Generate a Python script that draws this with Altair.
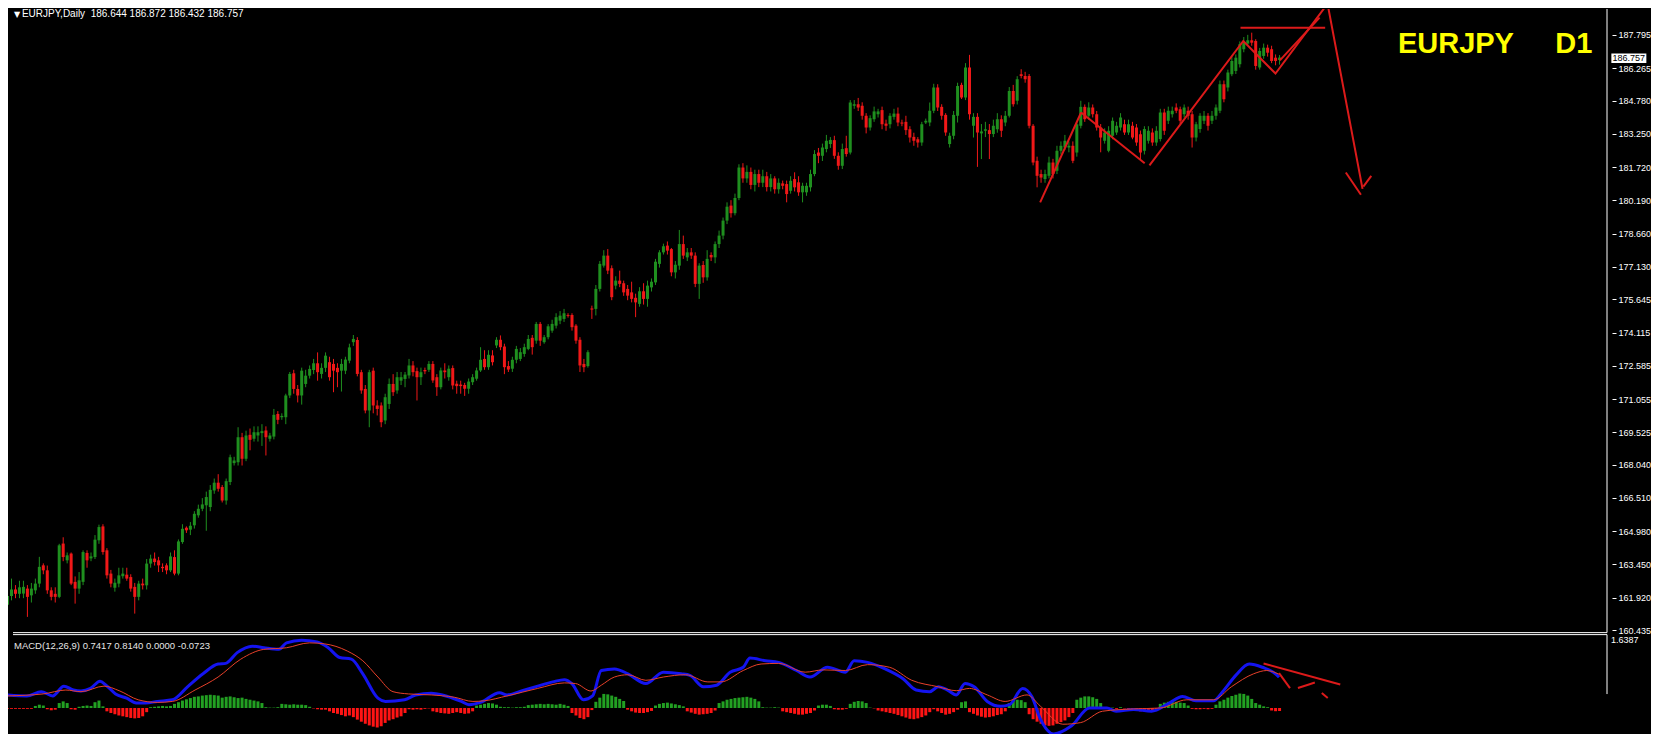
import altair as alt
import pandas as pd

# ---------------- candle data (EURJPY daily) ----------------
OPEN = [
 161.60,162.00,162.30,162.10,162.11,162.34,162.03,162.26,162.57,163.41,
 163.18,162.26,162.10,161.96,164.41,163.64,163.95,162.65,162.34,162.65,
 163.98,163.73,163.79,164.56,165.20,164.10,163.03,162.38,162.57,162.91,
 162.98,162.87,162.42,161.96,162.57,162.49,163.49,163.72,163.64,163.34,
 163.41,163.18,163.79,163.03,164.48,165.14,165.05,165.25,165.71,166.01,
 166.17,166.09,166.85,167.21,167.01,166.39,167.24,168.11,168.15,169.30,
 168.31,169.41,169.23,169.38,169.49,169.61,169.23,169.33,170.37,170.22,
 170.22,171.22,172.24,171.52,171.22,171.75,172.13,172.39,172.70,172.21,
 172.49,172.75,172.67,172.49,172.36,172.36,172.82,173.67,173.77,172.29,
 171.52,170.53,172.36,170.76,170.76,170.07,170.83,171.75,171.45,171.90,
 171.98,172.14,172.60,172.34,172.06,172.39,172.40,172.67,172.06,171.60,
 172.37,172.06,172.48,171.76,171.72,171.70,171.53,171.83,171.99,172.37,
 172.90,172.52,173.06,173.52,173.78,173.47,172.57,172.45,172.86,172.90,
 173.13,173.36,173.87,173.74,174.51,173.67,173.90,174.20,174.43,174.66,
 174.74,174.92,174.92,174.43,173.78,172.67,172.57,175.22,175.20,176.12,
 177.19,177.65,177.07,176.27,176.50,176.38,176.12,175.96,175.71,175.43,
 176.01,175.66,176.19,176.42,177.27,177.80,178.11,177.95,176.88,177.19,
 178.18,177.57,177.80,177.65,176.35,177.22,176.65,177.68,177.57,178.18,
 178.57,179.26,179.95,179.60,180.30,181.70,181.20,181.50,180.90,181.40,
 181.00,181.30,180.80,181.20,180.70,180.97,180.94,180.63,181.17,181.02,
 180.56,180.56,180.79,181.40,182.39,182.24,182.55,182.78,182.96,182.24,
 181.78,182.59,182.39,184.54,184.61,184.54,184.08,183.54,183.92,184.15,
 184.34,183.72,183.69,184.03,184.18,183.77,183.80,183.46,183.11,183.00,
 182.85,183.77,183.77,184.31,185.38,184.49,184.12,182.78,183.16,184.08,
 185.50,184.92,186.30,183.62,184.03,183.27,183.39,183.42,183.24,183.46,
 183.92,183.77,184.08,185.22,184.77,185.99,185.91,185.91,183.62,182.01,
 181.40,181.17,181.32,181.93,181.55,182.47,182.62,182.62,182.70,182.39,
 183.62,184.49,184.08,184.46,184.15,183.54,182.93,182.47,183.16,183.31,
 183.54,183.69,183.31,183.62,183.54,183.23,182.47,182.93,183.31,182.85,
 183.01,184.23,183.85,184.15,184.46,184.38,184.15,184.31,184.15,183.08,
 183.47,183.85,184.08,183.85,184.08,184.31,185.53,185.38,185.99,186.14,
 186.45,187.14,187.40,187.55,187.52,186.30,186.83,187.21,187.14,186.75,
 186.644,
]
HIGH = [
 162.40,162.80,162.50,162.70,162.70,162.50,162.60,162.80,163.80,163.50,
 163.40,162.40,162.40,164.40,164.70,164.00,164.00,162.90,163.10,164.10,
 164.10,164.00,164.80,165.28,165.30,164.20,163.20,162.80,163.30,163.30,
 163.30,163.00,162.60,162.70,162.80,163.70,163.90,164.00,163.80,163.50,
 163.50,164.00,164.10,164.60,165.30,165.20,165.40,165.90,166.20,166.50,
 166.80,167.10,167.40,167.60,167.10,167.40,168.50,168.40,169.76,169.50,
 169.60,169.70,169.80,169.80,169.90,169.80,169.50,170.60,170.50,170.40,
 171.30,172.30,172.40,171.70,172.50,172.40,172.60,172.90,173.20,172.70,
 173.20,173.00,172.90,172.70,172.90,173.00,173.60,174.00,173.90,172.40,
 171.70,172.40,172.50,171.00,170.90,171.30,172.00,172.20,172.30,172.30,
 172.30,172.90,172.80,172.50,172.50,172.50,172.80,172.80,172.20,172.50,
 172.70,172.60,172.60,171.90,171.90,171.80,172.00,172.20,172.50,173.44,
 173.30,173.30,173.30,173.90,173.98,173.60,172.80,173.00,173.50,173.40,
 173.60,174.00,174.00,174.60,174.60,174.00,174.50,174.70,175.00,175.10,
 175.20,175.00,175.00,174.50,173.90,172.90,173.30,175.35,176.30,177.40,
 177.90,177.95,177.20,176.70,176.96,176.50,176.30,176.45,175.90,176.20,
 176.38,176.50,176.60,177.50,177.90,178.20,178.30,178.00,177.40,178.83,
 178.57,178.00,178.00,177.80,177.30,177.40,177.90,177.80,178.30,178.80,
 179.40,180.10,180.20,180.50,181.85,181.90,181.80,181.70,181.60,181.60,
 181.60,181.50,181.40,181.30,181.20,181.10,181.10,181.30,181.48,181.30,
 181.00,181.00,181.60,182.50,182.60,182.80,183.20,183.10,183.16,182.40,
 182.80,183.16,184.80,184.80,184.90,184.70,184.20,184.10,184.50,184.40,
 184.50,183.90,184.20,184.40,184.46,183.90,184.08,183.60,183.30,183.10,
 183.80,183.95,184.69,185.55,185.53,184.61,184.20,183.30,184.30,185.60,
 185.60,186.50,186.88,184.20,184.20,183.70,183.80,183.70,183.90,184.20,
 184.10,184.30,185.40,185.50,185.90,186.22,186.10,186.00,183.70,182.20,
 181.60,181.60,182.20,182.10,182.70,182.90,183.20,182.90,182.90,183.80,
 184.77,184.60,184.70,184.60,184.30,183.70,183.50,183.60,184.00,183.80,
 184.20,183.90,183.90,183.80,183.70,183.40,183.60,183.60,183.50,183.60,
 184.40,184.40,184.50,184.50,184.65,184.50,184.60,184.50,184.30,183.80,
 184.20,184.30,184.20,184.30,184.60,185.70,185.70,186.20,186.80,186.90,
 187.50,187.70,187.80,187.90,187.60,187.20,187.40,187.35,187.30,186.90,
 186.872,
]
LOW = [
 161.30,161.80,161.90,161.90,161.90,161.04,161.70,162.10,162.40,163.00,
 162.10,161.80,161.70,161.90,163.60,163.50,162.50,161.65,162.10,162.50,
 163.30,163.60,163.70,164.40,163.90,162.80,162.40,162.20,162.40,162.80,
 162.70,162.20,161.19,161.80,162.30,162.30,163.30,163.40,163.10,163.10,
 163.00,163.10,162.95,162.95,164.40,164.90,164.80,165.10,165.60,165.90,
 165.00,165.90,166.70,166.80,166.30,166.20,167.10,168.00,168.00,168.00,
 168.20,168.70,169.10,169.10,168.90,168.46,169.10,169.20,169.90,170.10,
 169.90,171.10,171.30,170.90,170.80,171.60,172.00,172.20,171.90,172.00,
 172.30,171.90,171.37,171.60,171.40,172.20,172.70,173.50,172.10,171.30,
 170.40,169.76,170.40,170.30,169.76,169.90,170.60,171.20,171.30,171.70,
 171.60,172.00,172.10,170.99,171.70,172.20,172.30,171.80,171.20,171.50,
 172.00,171.90,171.50,171.30,171.30,171.20,171.30,171.70,171.90,172.30,
 172.40,172.40,172.60,173.40,173.30,172.20,172.30,172.30,172.70,172.80,
 173.00,173.30,173.10,173.60,173.50,173.60,173.80,174.10,174.30,174.50,
 174.60,174.80,174.20,173.60,172.30,172.29,172.50,174.74,174.90,176.00,
 177.10,176.80,175.60,176.10,176.20,175.80,175.60,175.50,174.82,175.30,
 175.40,175.30,176.00,176.30,177.10,177.70,177.70,176.70,176.60,177.00,
 177.50,177.40,177.50,176.20,175.66,176.40,176.50,177.40,177.30,178.00,
 178.40,179.10,179.40,179.50,180.20,181.00,181.00,180.70,180.60,180.80,
 180.80,180.60,180.60,180.50,180.50,180.70,180.10,180.50,180.60,180.40,
 180.10,180.40,180.60,181.30,181.90,182.00,182.40,182.60,182.10,181.60,
 181.63,182.20,182.30,184.40,184.30,183.90,183.27,183.40,183.80,184.00,
 183.46,183.39,183.50,183.90,183.60,183.60,183.20,182.85,182.70,182.62,
 182.70,183.70,183.60,184.20,184.30,183.90,183.16,182.62,183.00,183.77,
 184.85,184.80,183.90,183.08,181.73,182.09,183.10,182.09,183.10,183.30,
 183.10,183.60,184.00,184.50,184.60,185.80,185.60,183.50,181.80,180.79,
 181.00,181.00,181.20,181.20,181.40,182.30,182.50,182.40,181.90,182.20,
 183.50,183.80,183.90,184.00,183.40,182.40,182.80,182.40,183.00,183.20,
 183.40,183.20,183.20,183.00,182.70,182.09,182.30,182.80,182.70,182.70,
 182.90,183.20,183.70,184.00,184.20,183.70,184.00,183.90,182.62,182.90,
 183.30,183.70,183.40,183.70,183.90,184.20,184.70,185.20,185.90,186.00,
 186.30,187.00,187.30,187.30,186.20,186.20,186.70,186.80,186.50,186.40,
 186.432,
]
CLOSE = [
 162.00,162.30,162.10,162.40,162.42,161.96,162.34,162.57,163.34,163.18,
 162.26,161.96,161.96,164.33,163.79,163.87,162.57,162.34,162.72,164.02,
 163.64,163.82,164.59,165.17,164.02,162.95,162.57,162.61,162.95,163.03,
 162.80,162.34,161.96,162.57,162.49,163.49,163.72,163.56,163.41,163.28,
 163.18,163.82,163.03,164.51,165.09,165.02,165.23,165.78,166.01,166.21,
 166.55,166.88,167.21,166.93,166.39,167.28,168.38,168.23,169.30,168.31,
 169.38,169.18,169.53,169.53,169.58,169.30,169.38,170.33,170.10,170.28,
 171.22,172.21,171.52,171.22,172.36,172.13,172.44,172.70,172.29,172.49,
 173.05,172.06,172.36,172.29,172.67,172.87,173.43,173.82,172.21,171.45,
 170.53,172.29,170.76,170.60,169.99,171.14,171.75,171.37,172.06,172.06,
 172.18,172.60,172.29,172.06,172.29,172.33,172.67,171.91,171.60,172.37,
 172.29,172.45,171.68,171.65,171.65,171.53,171.86,172.06,172.37,172.86,
 172.52,173.09,172.75,173.78,173.44,172.52,172.41,172.86,173.36,173.21,
 173.44,173.82,173.44,174.51,173.74,173.90,174.40,174.51,174.82,174.89,
 175.00,174.88,174.36,173.74,172.60,172.52,173.21,175.17,176.12,177.27,
 177.65,176.96,175.74,176.50,176.35,175.96,175.81,175.66,175.50,176.01,
 175.66,176.27,176.45,177.37,177.80,178.08,177.88,176.88,177.23,178.18,
 177.65,177.80,177.65,176.35,177.19,176.65,177.50,177.57,178.18,178.57,
 179.26,179.90,179.60,180.30,181.70,181.20,181.50,180.90,181.40,181.00,
 181.30,180.80,181.20,180.70,181.00,180.86,180.48,181.09,180.79,180.56,
 180.86,180.86,181.40,182.32,182.24,182.62,182.93,182.97,182.24,181.78,
 182.55,182.32,184.69,184.61,184.46,184.08,183.54,183.97,184.28,184.28,
 183.69,183.62,184.08,184.18,183.77,183.72,183.42,183.08,182.93,182.85,
 183.69,183.85,184.31,185.38,184.46,184.08,183.31,183.16,184.12,185.45,
 184.92,186.30,184.15,184.03,183.31,183.36,183.46,183.24,183.62,183.92,
 183.39,184.08,185.22,184.61,185.76,185.91,185.76,183.62,181.93,181.32,
 181.24,181.40,181.93,181.40,182.47,182.70,182.93,182.70,182.01,183.69,
 184.49,183.92,184.46,184.15,183.54,183.08,183.31,183.39,183.85,183.62,
 184.00,183.31,183.69,183.08,182.85,182.39,183.47,183.39,182.85,183.39,
 184.23,183.39,184.31,184.31,184.31,183.85,184.46,184.08,183.08,183.69,
 184.08,184.08,183.62,184.08,184.46,185.53,184.84,186.07,186.60,186.75,
 187.37,187.44,187.55,187.44,186.37,187.06,187.21,186.98,186.60,186.60,
 186.757,
]

PRICE_TICKS = [187.795, 186.265, 184.780, 183.250, 181.720, 180.190, 178.660,
               177.130, 175.645, 174.115, 172.585, 171.055, 169.525, 168.040,
               166.510, 164.980, 163.450, 161.920, 160.435]
LAST_PRICE = 186.757

# ---------------- MACD(12,26,9) panel ----------------
HIST = [
 -0.02,-0.02,-0.02,-0.02,-0.02,-0.02,-0.02,
 0.05,0.08,0.06,
 -0.03,-0.055,-0.04,
 0.12,0.16,0.12,
 -0.03,-0.04,
 0.03,0.05,0.06,0.05,
 0.14,0.18,0.04,
 -0.08,-0.12,-0.15,-0.18,-0.2,-0.22,-0.24,-0.25,-0.24,-0.2,-0.1,
 0.02,0.03,0.04,0.05,0.04,0.05,
 0.1,0.14,0.18,0.21,0.24,0.27,0.28,0.3,0.31,0.32,0.31,0.3,
 0.25,0.27,0.28,0.26,0.24,0.25,0.22,0.2,0.18,0.16,0.12,
 0.02,0.01,0.01,0.02,
 0.1,0.09,0.08,0.09,0.08,0.08,0.07,0.03,
 -0.01,-0.03,-0.04,-0.04,
 -0.08,-0.12,-0.14,-0.17,-0.2,-0.18,-0.22,
 -0.28,-0.33,-0.38,-0.42,-0.45,-0.47,-0.44,-0.36,
 -0.3,-0.27,-0.23,-0.2,-0.12,
 -0.03,-0.04,-0.03,-0.04,-0.02,-0.01,
 -0.08,-0.1,-0.12,-0.13,-0.14,-0.12,-0.1,-0.12,-0.14,-0.13,-0.08,
 0.06,0.08,0.1,0.12,0.11,0.08,0.03,
 0.02,0.02,0.01,0.02,0.02,0.03,
 0.07,0.08,0.09,0.1,0.09,0.1,0.09,0.08,0.1,0.08,0.05,
 -0.12,-0.18,-0.24,-0.27,-0.22,-0.05,
 0.15,0.25,0.34,0.33,0.3,0.27,0.22,0.17,
 -0.04,-0.08,-0.11,-0.12,-0.12,-0.1,-0.07,
 0.06,0.1,0.12,0.13,0.11,0.09,0.07,0.04,
 -0.08,-0.11,-0.14,-0.16,-0.15,-0.14,-0.12,-0.06,
 0.12,0.16,0.2,0.22,0.24,0.25,0.26,0.27,0.25,0.22,0.16,
 0.02,0.01,0.01,0.02,0.01,
 -0.08,-0.1,-0.12,-0.14,-0.16,-0.16,-0.14,-0.12,-0.06,
 0.06,0.08,0.08,0.05,
 -0.03,-0.04,-0.04,-0.02,
 0.1,0.15,0.17,0.16,0.12,
 0.01,-0.01,
 -0.06,-0.08,-0.1,-0.12,-0.14,-0.17,-0.2,-0.23,-0.26,-0.27,-0.25,-0.22,-0.18,-0.1,
 -0.03,-0.08,-0.12,-0.16,-0.14,-0.1,-0.04,
 0.14,0.16,
 -0.1,-0.14,-0.18,-0.21,-0.23,-0.22,-0.2,-0.17,-0.15,-0.08,
 0.12,0.18,0.2,0.19,0.14,
 -0.15,-0.27,-0.33,-0.38,-0.42,-0.43,-0.42,-0.38,-0.34,-0.3,-0.22,-0.12,
 0.2,0.25,0.28,0.28,0.26,0.22,0.12,
 0.02,-0.02,0.01,-0.02,0.02,-0.01,-0.02,
 -0.04,-0.06,-0.08,-0.08,-0.07,-0.06,-0.04,
 0.1,0.13,0.15,0.16,0.15,0.13,0.12,0.06,
 -0.02,-0.03,-0.03,-0.02,-0.03,-0.02,
 0.08,0.16,0.2,0.25,0.29,0.32,0.35,0.34,0.3,0.22,
 0.12,0.08,0.04,0.02,
 -0.06,-0.077,-0.0723,
]
MACD_I = [0,5,8.6,11.5,14.3,16.7,18.6,21,23.4,24.9,27.3,30.1,32.5,34.9,37.8,41.6,45.4,
          49.3,53.1,55,57.9,61.7,64.6,68.4,70.3,74.1,78,80.8,83.7,86.6,89.5,93.3,95.2,
          100,102.8,106.7,109.5,114.3,116.2,119.1,123.9,125.8,129.6,133.5,137.3,140.2,
          142.1,145,147.3,149.5,152.8,156.2,160.7,165.1,169.6,171.8,175.2,178.5,181.9,
          185.2,186.9,190.8,194.1,198.6,202,206.4,210.9,213.1,216.5,220.9,225.4,228.7,
          232.1,234.3,236.6,238.8,241,243.3,246.6,250,252.2,255.5,257.8,260,263.3,267.8,
          272.3,276.7,279,283.4,287.9,292.4,295.7,299.1,303.5,305.8,309.1,312.5,315.8,
          319.1,320]
MACD_V = [0.316,0.292,0.394,0.292,0.528,0.434,0.410,0.473,0.645,0.551,0.340,0.237,0.120,
          0.120,0.159,0.198,0.512,0.826,1.062,1.077,1.336,1.493,1.454,1.415,1.572,1.635,
          1.596,1.454,1.219,1.179,0.826,0.237,0.159,0.198,0.316,0.355,0.316,0.159,0.080,
          0.135,0.370,0.316,0.418,0.528,0.630,0.685,0.591,0.198,0.292,0.905,0.944,0.826,
          0.591,0.865,0.826,0.787,0.512,0.551,0.865,0.983,1.204,1.140,1.101,0.905,0.748,
          0.983,0.865,1.140,1.101,0.944,0.708,0.434,0.394,0.512,0.434,0.316,0.591,0.512,
          0.159,0.041,0.080,0.473,0.277,-0.273,-0.626,-0.430,0.0,0.0,-0.077,-0.037,-0.077,
          0.120,0.277,0.175,0.175,0.394,0.787,1.062,0.983,0.826,0.742]
SIG_I = [0,9.1,14.8,18.6,24.4,28.2,33,37.8,41.6,47.3,53.1,58.8,64.6,70.3,76.1,79.9,85.6,
         89.5,93.3,97.1,101,106.7,112.5,117.2,120.1,125.8,133.5,140.2,143,146.9,149.5,
         152.8,156.2,160.7,165.1,170.7,176.3,179.6,185.2,189.7,194.1,200.8,205.3,210.9,
         216.5,222,227.6,234.3,238.8,242.1,246.6,251.1,256.6,260,265.6,270.1,275.6,283.4,
         290.1,296.8,303.5,308,313.6,316.9,320]
SIG_V = [0.292,0.340,0.434,0.394,0.528,0.418,0.198,0.135,0.159,0.434,0.748,1.179,1.415,
         1.454,1.572,1.548,1.375,1.140,0.748,0.394,0.340,0.316,0.261,0.159,0.175,0.292,
         0.473,0.606,0.591,0.410,0.551,0.748,0.803,0.669,0.748,0.803,0.630,0.630,0.905,
         1.062,1.077,0.865,0.920,0.905,1.047,0.983,0.669,0.512,0.418,0.473,0.316,0.159,
         0.316,0.041,-0.391,-0.352,-0.077,-0.022,0.0,0.198,0.198,0.512,0.826,0.905,0.814]
MACD_MAX = 1.6387

# ---------------- hand-drawn annotations ----------------
ANN_SEG = [1, 1, 2, 2, 3, 3, 3, 3, 3, 4, 4, 5, 5, 6, 6, 7, 7]
ANN_I = [259.9, 270.2, 270.2, 286.2, 287.4, 311.0, 319.1, 332.2, 341.0,
         320.2, 330.2, 310.3, 331.6, 336.8, 340.6, 341.2, 343.2]
ANN_P = [180.10, 184.23, 184.23, 181.90, 181.80, 187.52, 186.02, 189.23, 180.72,
         186.63, 188.59, 188.13, 188.13, 181.47, 180.45, 180.82, 181.32]
MANN_SEG = [1, 1, 2, 2, 3, 3, 3, 4, 4]
MANN_I = [316.1, 335.4, 320.0, 322.75, 324.75, 327.5, 329.0, 330.75, 332.25]
MANN_V = [1.075, 0.566, 0.843, 0.482, 0.482, 0.566, 0.614, 0.361, 0.241]

# ---------------- style ----------------
GREEN = "#1f8f1f"
RED = "#f01818"
ANN_RED = "#dc1a1a"
FONT = "Liberation Sans"
X_LO, X_HI = 1.5, 402.5

X_SCALE = alt.Scale(domain=[X_LO, X_HI], nice=False, zero=False)
P_SCALE = alt.Scale(domain=[155.655, 188.989], nice=False, zero=False)
M_SCALE = alt.Scale(domain=[-0.627, 16.867], nice=False, zero=False)
P_AXIS = alt.Axis(orient="right", values=PRICE_TICKS, format=".3f", labelColor="#ffffff",
                  labelFont=FONT, labelFontSize=9, tickColor="#ffffff", tickSize=4,
                  tickWidth=1, labelPadding=2, domain=False, grid=False, title="",
                  labelOverlap=False)


def X(field="i"):
    return alt.X(f"{field}:Q", scale=X_SCALE, axis=None)


def PY(field):
    return alt.Y(f"{field}:Q", scale=P_SCALE, axis=P_AXIS)


def MY(field):
    return alt.Y(f"{field}:Q", scale=M_SCALE, axis=None)


n = min(len(OPEN), len(HIGH), len(LOW), len(CLOSE))
candles = pd.DataFrame({"i": list(range(n)), "o": OPEN[:n], "h": HIGH[:n],
                        "l": LOW[:n], "c": CLOSE[:n]})
ccol = alt.condition("datum.c >= datum.o", alt.value(GREEN), alt.value(RED))

wick = alt.Chart(candles).mark_rule(strokeWidth=1, xOffset=0.5, clip=True).encode(
    x=X(), y=PY("l"), y2=alt.Y2("h"), color=ccol)
body = alt.Chart(candles).mark_bar(size=3, xOffset=0.5, clip=True).encode(
    x=X(), y=PY("o"), y2=alt.Y2("c"), color=ccol)

ann_df = pd.DataFrame({"seg": ANN_SEG, "i": ANN_I, "p": ANN_P,
                       "k": list(range(len(ANN_I)))})
ann = alt.Chart(ann_df).mark_line(strokeWidth=2, color=ANN_RED, clip=True).encode(
    x=X(), y=PY("p"), detail="seg:N", order="k:Q")

frame_v = alt.Chart(pd.DataFrame({"i": [X_HI], "p1": [188.989], "p2": [160.316]})).mark_rule(
    color="#ffffff", strokeWidth=1).encode(x=X(), y=PY("p1"), y2=alt.Y2("p2"))
frame_h = alt.Chart(pd.DataFrame({"i1": [X_LO], "i2": [X_HI], "p": [160.316]})).mark_rule(
    color="#ffffff", strokeWidth=1).encode(x=X("i1"), x2=alt.X2("i2"), y=PY("p"))

hdr_tri = alt.Chart(pd.DataFrame({"i": [1.75], "p": [188.989], "t": ["▼"]})).mark_text(
    align="left", baseline="top", color="#ffffff", fontSize=8, font="DejaVu Sans", dy=2).encode(
    x=X(), y=PY("p"), text="t:N")
hdr_txt = alt.Chart(pd.DataFrame({"i": [3.75], "p": [188.989],
                                  "t": ["EURJPY,Daily\u00a0\u00a0186.644 186.872 186.432 186.757"]})).mark_text(
    align="left", baseline="top", color="#ffffff", fontSize=10, font=FONT, dy=0).encode(
    x=X(), y=PY("p"), text="t:N")

big = alt.Chart(pd.DataFrame({"i": [349.9, 389.5], "p": [186.98, 186.98],
                              "t": ["EURJPY", "D1"]})).mark_text(
    align="left", baseline="alphabetic", color="#ffff00", fontSize=29, fontWeight="bold",
    font=FONT).encode(x=X(), y=PY("p"), text="t:N")

box = alt.Chart(pd.DataFrame({"i1": [X_HI + 1.1], "i2": [X_HI + 9.9], "p1": [186.945],
                              "p2": [186.509]})).mark_rect(color="#ffffff").encode(
    x=X("i1"), x2=alt.X2("i2"), y=PY("p1"), y2=alt.Y2("p2"))
box_txt = alt.Chart(pd.DataFrame({"i": [X_HI + 1.4], "p": [LAST_PRICE],
                                  "t": [f"{LAST_PRICE:.3f}"]})).mark_text(
    align="left", baseline="middle", color="#000000", fontSize=9, font=FONT).encode(
    x=X(), y=PY("p"), text="t:N")

main = alt.layer(wick, body, ann, frame_v, frame_h, hdr_tri, hdr_txt, big, box, box_txt)

# MACD panel
nh = len(HIST)
hist_df = pd.DataFrame({"i": list(range(nh)), "h": HIST, "z": [0.0] * nh})
hist = alt.Chart(hist_df).mark_bar(size=3, xOffset=0.5, clip=True).encode(
    x=X(), y=MY("h"), y2=alt.Y2("z"),
    color=alt.condition("datum.h >= 0", alt.value("#22a022"), alt.value("#ff1414")))
macd_line = alt.Chart(pd.DataFrame({"i": MACD_I, "v": MACD_V})).mark_line(
    color="#1414f0", strokeWidth=3, interpolate="monotone", clip=True).encode(
    x=X(), y=MY("v"))
sig_line = alt.Chart(pd.DataFrame({"i": SIG_I, "v": SIG_V})).mark_line(
    color="#e8402a", strokeWidth=1, interpolate="monotone", clip=True).encode(
    x=X(), y=MY("v"))
mann_df = pd.DataFrame({"seg": MANN_SEG, "i": MANN_I, "v": MANN_V,
                        "k": list(range(len(MANN_I)))})
mann = alt.Chart(mann_df).mark_line(strokeWidth=2, color=ANN_RED, clip=True).encode(
    x=X(), y=MY("v"), detail="seg:N", order="k:Q")
mframe_h = alt.Chart(pd.DataFrame({"i1": [X_LO], "i2": [X_HI], "v": [1.771]})).mark_rule(
    color="#ffffff", strokeWidth=1).encode(x=X("i1"), x2=alt.X2("i2"), y=MY("v"))
mframe_v = alt.Chart(pd.DataFrame({"i": [X_HI], "v1": [1.771], "v2": [0.337]})).mark_rule(
    color="#ffffff", strokeWidth=1).encode(x=X(), y=MY("v1"), y2=alt.Y2("v2"))
mtitle = alt.Chart(pd.DataFrame({"i": [X_LO], "v": [1.494],
                                 "t": ["MACD(12,26,9) 0.7417 0.8140 0.0000 -0.0723"]})).mark_text(
    align="left", baseline="middle", color="#e6e6e6", fontSize=9.5, font=FONT, dx=1).encode(
    x=X(), y=MY("v"), text="t:N")
mmax = alt.Chart(pd.DataFrame({"i": [X_HI + 1.0], "v": [MACD_MAX], "t": [f"{MACD_MAX:.4f}"]})).mark_text(
    align="left", baseline="middle", color="#ffffff", fontSize=9, font=FONT).encode(
    x=X(), y=MY("v"), text="t:N")

macd = alt.layer(hist, macd_line, sig_line, mann, mframe_h, mframe_v, mtitle, mmax)

chart = alt.layer(main, macd).resolve_scale(y="independent").properties(
    width=1643, height=726, padding=0, background="#000000",
    autosize=alt.AutoSizeParams(type="fit", contains="padding"),
).configure_view(strokeWidth=0)

chart.save("out.html", embed_options={"renderer": "svg", "actions": False})
